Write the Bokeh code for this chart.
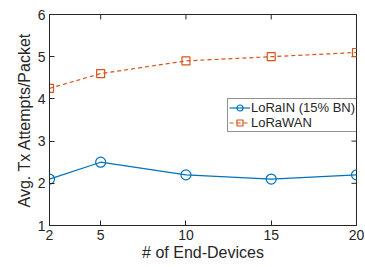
import math
from bokeh.plotting import figure
from bokeh.models import Range1d, FixedTicker, Legend, LegendItem
from bokeh.embed import file_html
from bokeh.resources import INLINE

devices = [2, 5, 10, 15, 20]
lorain = [2.1, 2.5, 2.2, 2.1, 2.2]
lorawan = [4.25, 4.6, 4.9, 5.0, 5.1]
x_ticks = [2, 5, 10, 15, 20]
y_ticks = [1, 2, 3, 4, 5, 6]

BLUE = "#0072BD"
ORANGE = "#D95319"
AX = "#262626"
FONT = "Liberation Sans"
X_MIN, X_MAX, Y_MIN, Y_MAX = 2, 20, 1, 6

p = figure(width=364, height=265, output_backend="svg", toolbar_location=None,
           x_range=Range1d(X_MIN, X_MAX), y_range=Range1d(Y_MIN, Y_MAX),
           min_border_left=49, min_border_right=8, min_border_top=14, min_border_bottom=40)
p.outline_line_color = AX
p.outline_line_width = 1
p.grid.visible = False
p.background_fill_color = "white"

for ax in (p.xaxis[0], p.yaxis[0]):
    ax.major_tick_in = 5
    ax.major_tick_out = 0
    ax.minor_tick_line_color = None
    ax.axis_line_color = AX
    ax.major_tick_line_color = AX
    ax.major_label_text_font = FONT
    ax.major_label_text_font_size = "14px"
    ax.major_label_text_color = AX
    ax.axis_label_text_font = FONT
    ax.axis_label_text_font_size = "16px"
    ax.axis_label_text_font_style = "normal"
    ax.axis_label_text_color = AX

p.xaxis[0].ticker = FixedTicker(ticks=x_ticks)
p.yaxis[0].ticker = FixedTicker(ticks=y_ticks)
p.xaxis[0].axis_label = "# of End-Devices"
p.yaxis[0].axis_label = "Avg. Tx Attempts/Packet"
p.xaxis[0].major_label_standoff = 4
p.yaxis[0].major_label_standoff = 4
p.xaxis[0].axis_label_standoff = 1
p.yaxis[0].axis_label_standoff = 2

# mirrored inward ticks on top and right edges (clipped to the frame)
p.scatter(x_ticks, [Y_MAX] * len(x_ticks), marker="dash", angle=math.pi / 2, size=10,
          line_color=AX, line_width=1)
p.scatter([X_MAX] * len(y_ticks), y_ticks, marker="dash", size=10, line_color=AX, line_width=1)

l1 = p.line(devices, lorain, color=BLUE, line_width=1.2)
m1 = p.scatter(devices, lorain, marker="circle", size=10, line_color=BLUE, fill_color=None, line_width=1.2)
l2 = p.line(devices, lorawan, color=ORANGE, line_width=1.2, line_dash="4 3")
m2 = p.scatter(devices, lorawan, marker="square", size=8, line_color=ORANGE, fill_color=None, line_width=1.2)

legend = Legend(items=[LegendItem(label="LoRaIN (15% BN)", renderers=[l1, m1]),
                       LegendItem(label="LoRaWAN", renderers=[l2, m2])],
                location=(178, 93))
legend.label_text_font = FONT
legend.label_text_font_size = "13px"
legend.label_text_color = AX
legend.border_line_color = AX
legend.border_line_width = 1
legend.padding = 1
legend.spacing = 0
legend.margin = 0
legend.glyph_width = 21
legend.glyph_height = 15
legend.label_height = 15
legend.label_standoff = 1
p.add_layout(legend, "center")

open("out.html", "w").write(file_html(p, INLINE))
